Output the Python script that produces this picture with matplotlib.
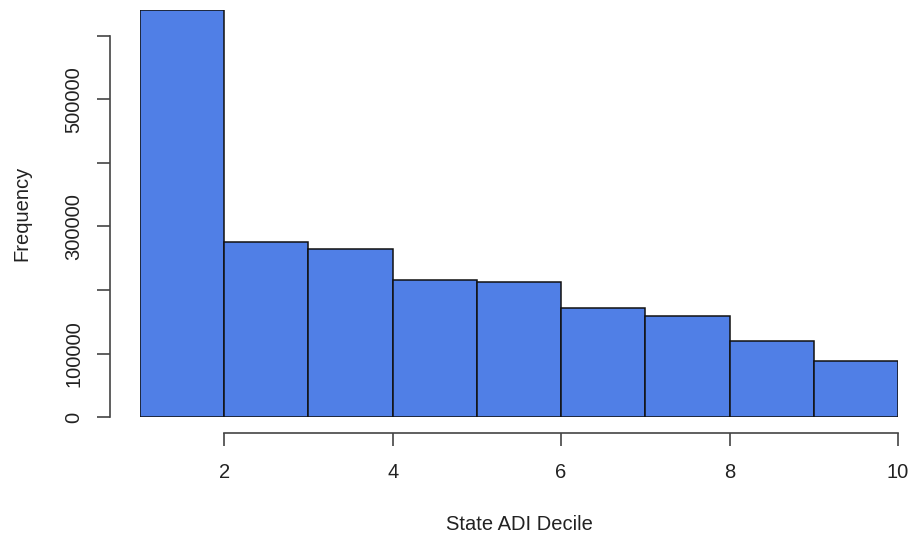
import matplotlib.pyplot as plt

# histogram of state ADI deciles (bin edges 1..10)
bin_edges = [1, 2, 3, 4, 5, 6, 7, 8, 9, 10]
counts = [640400, 275200, 264600, 216400, 212700, 171800, 159300, 119500, 88500]
x_ticks = [2, 4, 6, 8, 10]
y_ticks = [0, 100000, 200000, 300000, 400000, 500000, 600000]
y_tick_labels = ["0", "100000", "", "300000", "", "500000", ""]

plt.rcParams['font.family'] = ['Liberation Sans', 'DejaVu Sans']

W, H = 917, 542
fig = plt.figure(figsize=(W / 100, H / 100), dpi=100)

# plot region in pixels
left, right, top, bottom = 140, 898, 10, 417.3
ax = fig.add_axes([left / W, 1 - bottom / H, (right - left) / W, (bottom - top) / H])

ax.bar(bin_edges[:-1], counts, width=1, align='edge',
       color='#507fe6', edgecolor='#111111', linewidth=1.1)

ax.set_xlim(bin_edges[0], bin_edges[-1])
ax.set_ylim(0, counts[0])

for s in ['top', 'right']:
    ax.spines[s].set_visible(False)
axis_col = '#444444'
ax.spines['left'].set_position(('outward', 30 * 0.72))
ax.spines['left'].set_bounds(y_ticks[0], y_ticks[-1])
ax.spines['bottom'].set_position(('outward', 16 * 0.72))
ax.spines['bottom'].set_bounds(x_ticks[0], x_ticks[-1])
for s in ['left', 'bottom']:
    ax.spines[s].set_color(axis_col)
    ax.spines[s].set_linewidth(1.2)

ax.set_xticks(x_ticks)
ax.set_xticklabels([str(v) for v in x_ticks])
ax.set_yticks(y_ticks)
ax.set_yticklabels(y_tick_labels, rotation=90, va='center')
ax.tick_params(axis='both', length=13 * 0.72, width=1.2, color=axis_col,
               labelsize=14.5, labelcolor='#222222')
ax.tick_params(axis='x', pad=12)
ax.tick_params(axis='y', pad=10)

fig.text((left + right) / 2 / W, 1 - 525 / H, "State ADI Decile",
         ha='center', va='center', fontsize=14.5, color='#222222')
fig.text(21.7 / W, 1 - (top + bottom) / 2 / H, "Frequency",
         ha='center', va='center', rotation=90, fontsize=14.5, color='#222222')

fig.savefig('out.png', dpi=100)
